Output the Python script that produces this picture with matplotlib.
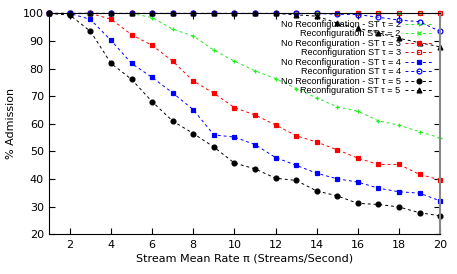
import matplotlib
matplotlib.use("Agg")
import matplotlib.pyplot as plt

# data
rate = list(range(1, 21))

no_rec_t2 = [100, 100, 100, 100, 100, 98.5, 94.3, 91.8, 86.7, 82.7,
             79.2, 76.4, 72.8, 69.4, 66.2, 64.6, 61.1, 59.5, 57.2, 54.9]
rec_t2 = [100] * 20
no_rec_t3 = [100, 100, 100, 97.9, 92.3, 88.4, 82.7, 75.5, 71.1, 65.9,
             63.2, 59.6, 55.7, 53.4, 50.6, 47.6, 45.3, 45.3, 41.7, 39.7]
rec_t3 = [100] * 20
no_rec_t4 = [100, 100, 97.8, 90.2, 81.9, 76.8, 71.2, 65.1, 56.0, 55.2,
             52.5, 47.8, 45.0, 42.1, 40.1, 38.9, 36.7, 35.4, 34.9, 32.1]
rec_t4 = [100, 100, 100, 100, 100, 100, 100, 100, 100, 100,
          100, 100, 100, 100, 99.7, 99.6, 98.6, 97.6, 97.0, 93.5]
no_rec_t5 = [100, 99.4, 93.5, 81.9, 76.1, 68.0, 61.0, 56.5, 51.6, 45.8,
             43.7, 40.3, 39.5, 35.7, 33.9, 31.2, 30.8, 29.9, 27.8, 26.7]
rec_t5 = [100, 100, 100, 100, 100, 100, 100, 100, 100, 100,
          100, 100, 99.5, 99.0, 96.5, 94.6, 93.0, 91.0, 89.4, 87.9]

labels = ["No Reconfiguration - ST \u03c4 = 2", "Reconfiguration ST \u03c4 = 2",
          "No Reconfiguration - ST \u03c4 = 3", "Reconfiguration ST \u03c4 = 3",
          "No Reconfiguration - ST \u03c4 = 4", "Reconfiguration ST \u03c4 = 4",
          "No Reconfiguration - ST \u03c4 = 5", "Reconfiguration ST \u03c4 = 5"]

GREEN = "#22ee22"
styles = [
    (no_rec_t2, GREEN, "+", "full"),
    (rec_t2, GREEN, "x", "full"),
    (no_rec_t3, "#ff0000", "s", "full"),
    (rec_t3, "#ff0000", "s", "none"),
    (no_rec_t4, "#0000ff", "s", "full"),
    (rec_t4, "#0000ff", "o", "none"),
    (no_rec_t5, "#000000", "o", "full"),
    (rec_t5, "#000000", "^", "full"),
]

fig = plt.figure(figsize=(4.57, 2.74), dpi=100)
ax = fig.add_axes([0.108, 0.145, 0.855, 0.806])

for (vals, col, mk, fill), lab in zip(styles, labels):
    ax.plot(rate, vals, color=col, linestyle=(0, (3, 3)), linewidth=0.7,
            marker=mk, markersize=3.5, fillstyle=fill, markeredgewidth=0.9,
            label=lab, clip_on=False)

ax.set_xlim(1, 20)
ax.set_ylim(20, 100)
ax.set_xticks(range(2, 21, 2))
ax.set_yticks(range(20, 101, 10))
ax.tick_params(direction="in", length=4, width=0.8, labelsize=8,
               top=True, right=True, pad=4)
ax.spines["right"].set_color("#888888")
ax.spines["right"].set_linewidth(1.5)
for s in ("left", "bottom", "top"):
    ax.spines[s].set_linewidth(0.8)

ax.set_xlabel("Stream Mean Rate \u03c0 (Streams/Second)", fontsize=8, labelpad=3)
ax.set_ylabel("% Admission", fontsize=8, labelpad=5)

ax.legend(loc="upper right", bbox_to_anchor=(0.947, 0.927),
          bbox_transform=fig.transFigure, frameon=False,
          prop={"family": "Liberation Sans", "size": 6.6},
          markerfirst=False, handlelength=3.0, handletextpad=0.5,
          labelspacing=0.05, borderpad=0, borderaxespad=0)

plt.savefig("out.png", dpi=100)
